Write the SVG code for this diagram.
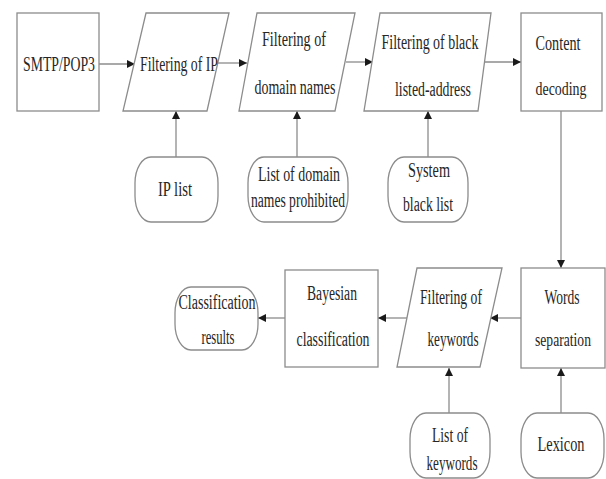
<svg xmlns="http://www.w3.org/2000/svg" width="606" height="479" viewBox="0 0 606 479">
<style>
.s{fill:#fff;stroke:#8c8c8c;stroke-width:1.3}
.c{fill:none;stroke:#8c8c8c;stroke-width:1.3}
text{font-family:"Liberation Serif","Times New Roman",serif;font-size:20px;fill:#262626;text-anchor:middle}
.n{font-size:19px}
.m{font-size:18px}
</style>
<defs>
<marker id="a" viewBox="0 0 10 10" refX="10" refY="5" markerWidth="8" markerHeight="8" markerUnits="userSpaceOnUse" orient="auto">
<path d="M0,0 L10,5 L0,10 Z" fill="#1a1a1a"/>
</marker>
</defs>
<rect width="606" height="479" fill="#fff"/>
<g id="connectors">
<line class="c" x1="99" y1="64" x2="135" y2="64" marker-end="url(#a)"/>
<line class="c" x1="218" y1="63" x2="247" y2="63" marker-end="url(#a)"/>
<line class="c" x1="346" y1="62" x2="373" y2="62" marker-end="url(#a)"/>
<line class="c" x1="483" y1="62" x2="521" y2="62" marker-end="url(#a)"/>
<line class="c" x1="561" y1="111" x2="561" y2="268" marker-end="url(#a)"/>
<line class="c" x1="521" y1="318" x2="490" y2="318" marker-end="url(#a)"/>
<line class="c" x1="407" y1="318" x2="378" y2="318" marker-end="url(#a)"/>
<line class="c" x1="285" y1="318" x2="258" y2="318" marker-end="url(#a)"/>
<line class="c" x1="176" y1="157" x2="176" y2="111" marker-end="url(#a)"/>
<line class="c" x1="297" y1="157" x2="297" y2="111" marker-end="url(#a)"/>
<line class="c" x1="428" y1="157" x2="428" y2="111" marker-end="url(#a)"/>
<line class="c" x1="449" y1="413" x2="449" y2="368" marker-end="url(#a)"/>
<line class="c" x1="561" y1="413" x2="561" y2="368" marker-end="url(#a)"/>
</g>
<g id="smtp">
<rect class="s" x="17" y="13" width="82" height="98"/>
<text x="59" y="71" textLength="72" lengthAdjust="spacingAndGlyphs">SMTP/POP3</text>
</g>
<g id="filter-ip">
<polygon class="s" points="146,13 229,13 207,111 123,111"/>
<text x="179" y="71" textLength="78" lengthAdjust="spacingAndGlyphs">Filtering of IP</text>
</g>
<g id="filter-domain">
<polygon class="s" points="257,13 355,13 335,111 239,111"/>
<text x="294" y="46" textLength="64" lengthAdjust="spacingAndGlyphs">Filtering of</text>
<text x="295" y="94" textLength="81" lengthAdjust="spacingAndGlyphs">domain names</text>
</g>
<g id="filter-black">
<polygon class="s" points="380,13 491,13 478,111 364,111"/>
<text x="430" y="49" textLength="97" lengthAdjust="spacingAndGlyphs">Filtering of black</text>
<text x="433" y="96" textLength="76" lengthAdjust="spacingAndGlyphs">listed-address</text>
</g>
<g id="content-decoding">
<rect class="s" x="521" y="13" width="81" height="98"/>
<text x="558" y="50" textLength="45" lengthAdjust="spacingAndGlyphs">Content</text>
<text class="n" x="561" y="95" textLength="51" lengthAdjust="spacingAndGlyphs">decoding</text>
</g>
<g id="ip-list">
<rect class="s" x="135" y="157" width="83" height="65" rx="16" ry="26"/>
<text x="175" y="196" textLength="34" lengthAdjust="spacingAndGlyphs">IP list</text>
</g>
<g id="domain-list">
<rect class="s" x="248" y="157" width="100" height="65" rx="16" ry="26"/>
<text x="299" y="181" textLength="82" lengthAdjust="spacingAndGlyphs">List of domain</text>
<text x="298" y="207" textLength="94" lengthAdjust="spacingAndGlyphs">names prohibited</text>
</g>
<g id="system-black-list">
<rect class="s" x="388" y="157" width="80" height="65" rx="16" ry="26"/>
<text x="429" y="177" textLength="42" lengthAdjust="spacingAndGlyphs">System</text>
<text x="428" y="211" textLength="50" lengthAdjust="spacingAndGlyphs">black list</text>
</g>
<g id="words-separation">
<rect class="s" x="521" y="268" width="84" height="100"/>
<text x="562" y="304" textLength="35" lengthAdjust="spacingAndGlyphs">Words</text>
<text class="m" x="563" y="346" textLength="56" lengthAdjust="spacingAndGlyphs">separation</text>
</g>
<g id="filter-keywords">
<polygon class="s" points="417,268 502,268 480,367 397,367"/>
<text x="451" y="304" textLength="62" lengthAdjust="spacingAndGlyphs">Filtering of</text>
<text x="453" y="346" textLength="51" lengthAdjust="spacingAndGlyphs">keywords</text>
</g>
<g id="bayesian">
<rect class="s" x="285" y="270" width="93" height="97"/>
<text x="332" y="300" textLength="50" lengthAdjust="spacingAndGlyphs">Bayesian</text>
<text x="333" y="346" textLength="73" lengthAdjust="spacingAndGlyphs">classification</text>
</g>
<g id="results">
<rect class="s" x="175" y="287" width="83" height="63" rx="16" ry="26"/>
<text x="217" y="309" textLength="77" lengthAdjust="spacingAndGlyphs">Classification</text>
<text x="218" y="344" textLength="33" lengthAdjust="spacingAndGlyphs">results</text>
</g>
<g id="keyword-list">
<rect class="s" x="410" y="413" width="80" height="65" rx="16" ry="26"/>
<text x="450" y="442" textLength="36" lengthAdjust="spacingAndGlyphs">List of</text>
<text x="452" y="470" textLength="51" lengthAdjust="spacingAndGlyphs">keywords</text>
</g>
<g id="lexicon">
<rect class="s" x="521" y="413" width="83" height="65" rx="16" ry="26"/>
<text x="561" y="451" textLength="47" lengthAdjust="spacingAndGlyphs">Lexicon</text>
</g>
</svg>
